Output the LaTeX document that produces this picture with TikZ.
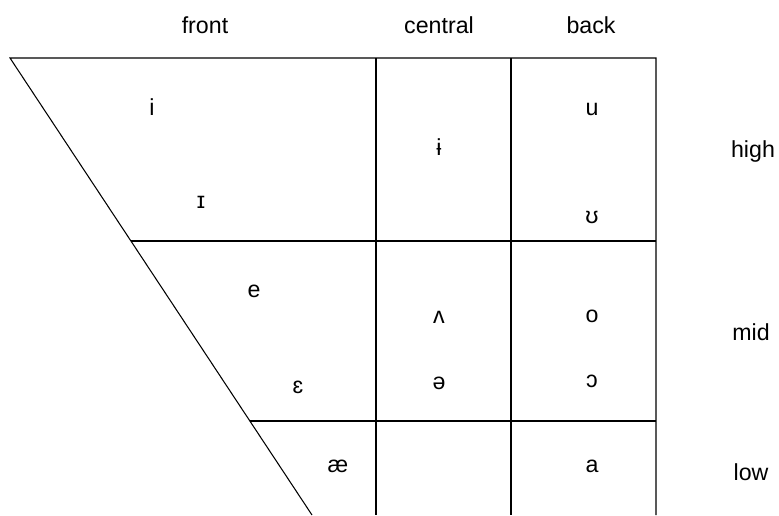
\documentclass[tikz,border=0pt]{standalone}
\usepackage{fontspec}
\setmainfont{Liberation Sans}
\begin{document}
\begin{tikzpicture}[x=0.02cm,y=-0.02cm,
  grid/.style={draw=black,line width=0.6pt},
  lab/.style={anchor=base,inner sep=0,font=\fontsize{13.2}{15}\selectfont},
  vow/.style={anchor=base,inner sep=0,font=\fontsize{13.2}{15}\selectfont}]
 \useasboundingbox (0,0) rectangle (779,515);
 % frame
 \coordinate (tl) at (10,58);   \coordinate (bl) at (312,515);
 \coordinate (tr) at (656,58);  \coordinate (br) at (656,515);
 \coordinate (c1t) at (376,58); \coordinate (c1b) at (376,515);
 \coordinate (c2t) at (511,58); \coordinate (c2b) at (511,515);
 \coordinate (hm) at (131,241); \coordinate (hmr) at (656,241);
 \coordinate (ml) at (250,421); \coordinate (mlr) at (656,421);
 \draw[grid] (bl) -- (tl) -- (tr) -- (br);
 \draw[grid] (c1t) -- (c1b) (c2t) -- (c2b);
 \draw[grid] (hm) -- (hmr) (ml) -- (mlr);
 % column and row labels
 \node[lab] (front) at (205,33) {front};
 \node[lab] (central) at (439,33) {central};
 \node[lab] (back) at (591,33) {back};
 \node[lab] (high) at (753,157) {high};
 \node[lab] (mid) at (751,340) {mid};
 \node[lab] (low) at (751,480) {low};
 % high vowels
 \node[vow] (vi) at (152,115) {i};
 \node[vow] (vI) at (201,208) {ɪ};
 \node[vow] (vbari) at (439,155) {ɨ};
 \node[vow] (vu) at (592,115) {u};
 \node[vow] (vU) at (592,223) {ʊ};
 % mid vowels
 \node[vow] (ve) at (254,297) {e};
 \node[vow] (veps) at (298,393) {ɛ};
 \node[vow] (vwedge) at (439,323) {ʌ};
 \node[vow] (vschwa) at (439,389) {ə};
 \node[vow] (vo) at (592,322) {o};
 \node[vow] (vopeno) at (592,387) {ɔ};
 % low vowels
 \node[vow] (vae) at (338,472) {æ};
 \node[vow] (va) at (592,472) {a};
\end{tikzpicture}
\end{document}
